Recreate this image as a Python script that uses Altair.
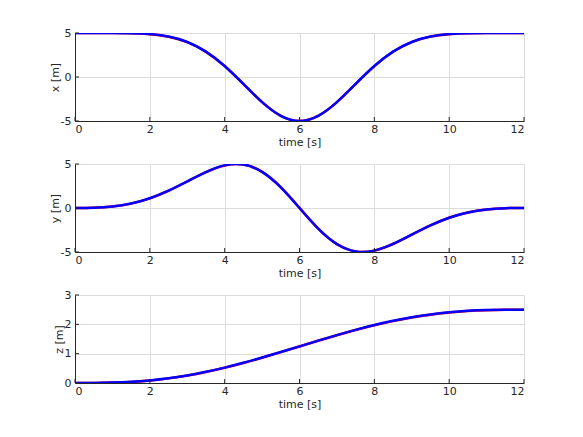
import altair as alt
import pandas as pd

# time samples [s]
t = [0, 0.5, 1, 1.5, 2, 2.5, 3, 3.5, 4, 4.5, 5, 5.5, 6,
     6.5, 7, 7.5, 8, 8.5, 9, 9.5, 10, 10.5, 11, 11.5, 12]

# measured (blue) trajectories
x_act = [5.000, 5.000, 4.997, 4.975, 4.876, 4.595, 3.979, 2.881, 1.247, -0.789,
         -2.854, -4.414, -5.000, -4.414, -2.854, -0.789, 1.247, 2.881, 3.979,
         4.595, 4.876, 4.975, 4.997, 5.000, 5.000]
y_act = [0.000, 0.021, 0.160, 0.503, 1.106, 1.972, 3.028, 4.087, 4.842, 4.937,
         4.105, 2.348, 0.000, -2.348, -4.105, -4.937, -4.842, -4.087, -3.028,
         -1.972, -1.106, -0.503, -0.160, -0.021, 0.000]
z_act = [0.000, 0.002, 0.013, 0.040, 0.089, 0.161, 0.259, 0.381, 0.525, 0.688,
         0.867, 1.056, 1.250, 1.444, 1.633, 1.812, 1.975, 2.119, 2.241, 2.339,
         2.411, 2.460, 2.487, 2.498, 2.500]

# reference (red) trajectories, almost hidden beneath the blue ones
x_ref = [5.000, 5.000, 4.997, 4.975, 4.870, 4.580, 3.960, 2.860, 1.230, -0.800,
         -2.860, -4.410, -5.000, -4.420, -2.860, -0.800, 1.230, 2.870, 3.970,
         4.590, 4.870, 4.970, 4.995, 5.000, 5.000]
y_ref = [0.000, 0.021, 0.160, 0.500, 1.100, 1.960, 3.010, 4.070, 4.830, 4.935,
         4.110, 2.360, 0.010, -2.340, -4.100, -4.935, -4.845, -4.090, -3.035,
         -1.980, -1.110, -0.505, -0.160, -0.021, 0.000]
z_ref = [0.000, 0.002, 0.013, 0.038, 0.086, 0.158, 0.255, 0.377, 0.520, 0.683,
         0.862, 1.051, 1.245, 1.439, 1.628, 1.806, 1.968, 2.110, 2.232, 2.330,
         2.403, 2.452, 2.480, 2.494, 2.500]

panels = [
    ("x [m]", x_ref, x_act, [-5, 5], [-5, 0, 5]),
    ("y [m]", y_ref, y_act, [-5, 5], [-5, 0, 5]),
    ("z [m]", z_ref, z_act, [0, 3], [0, 1, 2, 3]),
]

x_ticks = [0, 2, 4, 6, 8, 10, 12]

W, H = 449, 88
TICK = 4
LBL = "'' + datum.value"

charts = []
for title, ref, act, dom, ticks in panels:
    df = pd.DataFrame({"t": t, "ref": ref, "act": act})
    xscale = alt.Scale(domain=[0, 12], nice=False, zero=False)
    yscale = alt.Scale(domain=dom, nice=False)
    xaxis = alt.Axis(values=x_ticks, labelExpr=LBL, labelPadding=2, titlePadding=2)
    yaxis = alt.Axis(values=ticks, labelExpr=LBL, labelPadding=4, titlePadding=0)
    xenc = alt.X("t:Q", title="time [s]", scale=xscale, axis=xaxis)
    base = alt.Chart(df)
    red = base.mark_line(color="#ff0000", strokeWidth=2.5, interpolate="natural", clip=True).encode(
        x=xenc,
        y=alt.Y("ref:Q", title=title, scale=yscale, axis=yaxis),
    )
    blue = base.mark_line(color="#0000ff", strokeWidth=2.5, interpolate="natural", clip=True).encode(
        x=xenc,
        y=alt.Y("act:Q", title=title, scale=yscale, axis=yaxis),
    )
    # inward tick marks (MATLAB style)
    xt = alt.Chart(pd.DataFrame({"t": x_ticks})).mark_rule(color="#262626", strokeWidth=1).encode(
        x=alt.X("t:Q", title="time [s]", scale=xscale, axis=xaxis),
        y=alt.value(H - TICK), y2=alt.value(H),
    )
    yt = alt.Chart(pd.DataFrame({"v": ticks})).mark_rule(color="#262626", strokeWidth=1).encode(
        y=alt.Y("v:Q", title=title, scale=yscale, axis=yaxis),
        x=alt.value(0), x2=alt.value(TICK),
    )
    charts.append(alt.layer(red, blue, xt, yt).properties(width=W, height=H))

chart = alt.vconcat(*charts, spacing=11).properties(
    padding={"left": 41, "top": 19, "right": 5, "bottom": 5},
    background="white",
).configure_view(stroke=None).configure_axis(
    domainColor="#262626",
    domainWidth=1,
    gridColor="#dcdcdc",
    gridWidth=1,
    ticks=False,
    labelColor="#262626",
    labelFont="DejaVu Sans",
    labelFontSize=11,
    titleColor="#262626",
    titleFont="DejaVu Sans",
    titleFontSize=11,
    titleFontWeight="normal",
)

chart.save("out.html", embed_options={"renderer": "svg", "actions": False})
